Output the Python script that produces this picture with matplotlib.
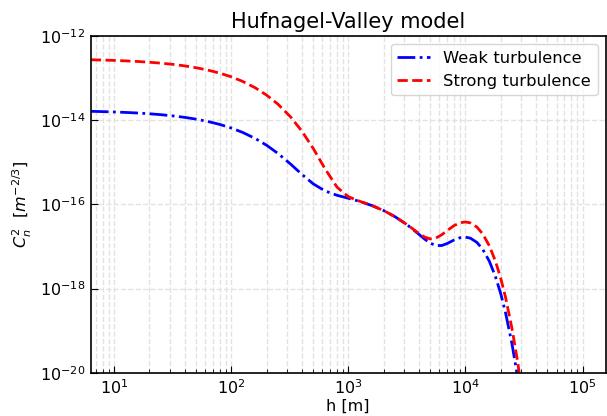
import numpy as np
import matplotlib
matplotlib.use("Agg")
import matplotlib.pyplot as plt
from matplotlib.ticker import LogLocator, NullLocator

# altitude samples [m] and C_n^2 values
h = [6.3, 8, 10, 13, 16, 20, 25, 32, 40, 50, 63, 80, 100, 125, 160, 200, 250,
     320, 400, 500, 630, 800, 1000, 1250, 1600, 2000, 2500, 3200, 4000, 4500,
     5000, 5600, 6300, 7000, 8000, 9000, 10000, 11000, 12500, 14000, 16000,
     18000, 20000, 22000, 25000, 28000, 32000]

weak = [1.623e-14, 1.596e-14, 1.565e-14, 1.520e-14, 1.476e-14, 1.419e-14,
        1.351e-14, 1.260e-14, 1.166e-14, 1.057e-14, 9.31e-15, 7.90e-15,
        6.50e-15, 5.12e-15, 3.67e-15, 2.54e-15, 1.624e-15, 9.11e-16, 5.18e-16,
        3.08e-16, 2.09e-16, 1.64e-16, 1.394e-16, 1.174e-16, 9.29e-17,
        7.12e-17, 5.10e-17, 3.22e-17, 1.945e-17, 1.480e-17, 1.20e-17,
        1.049e-17, 1.055e-17, 1.18e-17, 1.424e-17, 1.613e-17, 1.666e-17,
        1.575e-17, 1.254e-17, 8.67e-18, 4.45e-18, 1.956e-18, 7.585e-19,
        2.662e-19, 4.76e-20, 7.36e-21, 5.12e-22]

strong = [2.726e-13, 2.680e-13, 2.627e-13, 2.549e-13, 2.474e-13, 2.377e-13,
          2.262e-13, 2.109e-13, 1.947e-13, 1.762e-13, 1.548e-13, 1.306e-13,
          1.070e-13, 8.33e-14, 5.88e-14, 3.94e-14, 2.403e-14, 1.204e-14,
          5.52e-15, 2.148e-15, 7.09e-16, 2.557e-16, 1.518e-16, 1.184e-16,
          9.29e-17, 7.12e-17, 5.11e-17, 3.24e-17, 2.036e-17, 1.660e-17,
          1.512e-17, 1.582e-17, 1.914e-17, 2.404e-17, 3.135e-17, 3.658e-17,
          3.823e-17, 3.633e-17, 2.904e-17, 2.009e-17, 1.033e-17, 4.538e-18,
          1.762e-18, 6.18e-19, 1.105e-19, 1.709e-20, 1.19e-21]

fig = plt.figure(figsize=(6.07, 4.16), dpi=100)
ax = fig.add_axes([0.1494, 0.104, 0.8486, 0.8095])

ax.plot(h, weak, color="blue", linestyle="-.", linewidth=2, label="Weak turbulence")
ax.plot(h, strong, color="red", linestyle="--", linewidth=2, label="Strong turbulence")

ax.set_xscale("log")
ax.set_yscale("log")
ax.set_xlim(6.29, 1.58e5)
ax.set_ylim(1e-20, 1e-12)

ax.set_yticks([1e-20, 1e-18, 1e-16, 1e-14, 1e-12])
ax.yaxis.set_minor_locator(NullLocator())
ax.xaxis.set_minor_locator(LogLocator(base=10, subs=np.arange(2, 10), numticks=20))

ax.grid(True, which="both", linestyle="--", color="#e2e2e2", linewidth=1)
ax.tick_params(which="both", direction="in", labelsize=11.5)
ax.tick_params(which="major", length=5, pad=4)
ax.tick_params(which="minor", length=3)
for s in ax.spines.values():
    s.set_linewidth(1.2)

ax.set_xlabel("h [m]", fontsize=11.5, labelpad=1)
ax.set_ylabel(r"$C_n^2$  $[m^{-2/3}]$", fontsize=11.5)
ax.set_title("Hufnagel-Valley model", fontsize=15)
ax.legend(loc="upper right", fontsize=11.8)

fig.savefig("out.png", dpi=100)
